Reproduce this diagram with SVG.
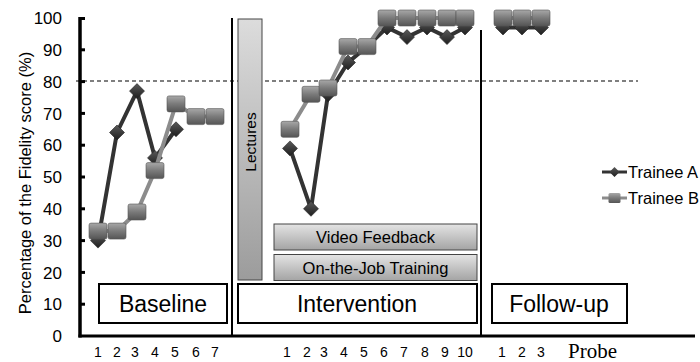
<svg xmlns="http://www.w3.org/2000/svg" xmlns:xlink="http://www.w3.org/1999/xlink" width="700" height="362" viewBox="0 0 700 362">
<defs>
<linearGradient id="gDia" x1="0" y1="0" x2="0" y2="1">
<stop offset="0" stop-color="#5a5a5a"/><stop offset="1" stop-color="#1e1e1e"/>
</linearGradient>
<linearGradient id="gSq" x1="0" y1="0" x2="0" y2="1">
<stop offset="0" stop-color="#a8a8a8"/><stop offset="0.5" stop-color="#7a7a7a"/><stop offset="1" stop-color="#555"/>
</linearGradient>
<linearGradient id="gBox" x1="0" y1="0" x2="0" y2="1">
<stop offset="0" stop-color="#e4e4e4"/><stop offset="1" stop-color="#a4a4a4"/>
</linearGradient>
<linearGradient id="gLect" x1="0" y1="0" x2="0" y2="1">
<stop offset="0" stop-color="#dcdcdc"/><stop offset="1" stop-color="#9c9c9c"/>
</linearGradient>
<path id="dia" d="M0,-7.5 L7.5,0 L0,7.5 L-7.5,0Z" fill="url(#gDia)" stroke="#222" stroke-width="0.6"/>
<rect id="sq" x="-9" y="-8" width="18" height="16" rx="2" fill="url(#gSq)" stroke="#555" stroke-width="0.6"/>
<path id="diaS" d="M0,-5 L5,0 L0,5 L-5,0Z" fill="url(#gDia)"/>
<rect id="sqS" x="-6" y="-5" width="12" height="10" rx="1.5" fill="url(#gSq)"/>
</defs>
<style>
.sans{font-family:"Liberation Sans","Open Sans",Arial,sans-serif;fill:#000}
.tick{font-size:17px;text-anchor:end}
.xl{font-size:14px;text-anchor:middle}
.phase{font-size:23px;text-anchor:middle}
.box{stroke:#000;stroke-width:2;fill:#fff}
.gbox{fill:url(#gBox);stroke:#444;stroke-width:1}
.lineA{fill:none;stroke:#333;stroke-width:4;stroke-linejoin:round}
.lineB{fill:none;stroke:#8c8c8c;stroke-width:4;stroke-linejoin:round}
</style>
<rect width="700" height="362" fill="#fff"/>

<g id="y-axis-title">
<text class="sans" font-size="16.5" text-anchor="middle" transform="translate(31,183) rotate(-90)">Percentage of the Fidelity score  (%)</text>
</g>

<g id="y-ticks" class="sans tick">
<text x="62" y="342">0</text>
<text x="62" y="310">10</text>
<text x="62" y="279">20</text>
<text x="62" y="247">30</text>
<text x="62" y="215">40</text>
<text x="62" y="183">50</text>
<text x="62" y="151">60</text>
<text x="62" y="120">70</text>
<text x="62" y="88">80</text>
<text x="62" y="56">90</text>
<text x="62" y="24">100</text>
</g>

<g id="axes" stroke="#000">
<line x1="80" y1="17" x2="80" y2="337.5" stroke-width="3.5"/>
<line x1="78.5" y1="336" x2="695" y2="336" stroke-width="3"/>
<g stroke-width="3">
<line x1="80" y1="304.2" x2="85" y2="304.2"/>
<line x1="80" y1="272.4" x2="85" y2="272.4"/>
<line x1="80" y1="240.6" x2="85" y2="240.6"/>
<line x1="80" y1="208.8" x2="85" y2="208.8"/>
<line x1="80" y1="177" x2="85" y2="177"/>
<line x1="80" y1="145.2" x2="85" y2="145.2"/>
<line x1="80" y1="113.4" x2="85" y2="113.4"/>
<line x1="80" y1="81.6" x2="85" y2="81.6"/>
<line x1="80" y1="49.8" x2="85" y2="49.8"/>
<line x1="80" y1="18.5" x2="85" y2="18.5"/>
</g>
</g>

<g id="criterion">
<line x1="76" y1="81" x2="638" y2="81" stroke="#000" stroke-width="1.2" stroke-dasharray="4,3"/>
</g>

<g id="phase-lines" stroke="#000" stroke-width="2">
<line x1="232" y1="18" x2="232" y2="336"/>
<line x1="481" y1="30" x2="481" y2="336"/>
</g>

<g id="lectures">
<rect x="238" y="19" width="24" height="261" fill="url(#gLect)" stroke="#444" stroke-width="1"/>
<text class="sans" font-size="15.5" text-anchor="middle" transform="translate(255.5,142) rotate(-90)">Lectures</text>
</g>

<g id="video-feedback">
<rect class="gbox" x="274" y="224" width="203" height="26"/>
<text class="sans" font-size="16.5" text-anchor="middle" x="375.5" y="243">Video Feedback</text>
</g>

<g id="on-the-job-training">
<rect class="gbox" x="274" y="254.5" width="203" height="26"/>
<text class="sans" font-size="16.5" text-anchor="middle" x="375.5" y="273.5">On-the-Job Training</text>
</g>

<g id="baseline-box">
<rect class="box" x="99" y="284" width="128" height="39"/>
<text class="sans phase" x="163" y="312">Baseline</text>
</g>

<g id="intervention-box">
<rect class="box" x="238" y="284" width="239" height="39"/>
<text class="sans phase" x="357" y="312" font-size="24.5">Intervention</text>
</g>

<g id="followup-box">
<rect class="box" x="492" y="284" width="135" height="39"/>
<text class="sans phase" x="559" y="312">Follow-up</text>
</g>

<g id="trainee-a">
<polyline class="lineA" points="98,240.6 117,132.5 137,91.1 155,157.9 176,129.3"/>
<polyline class="lineA" points="290,148.4 311,208.8 328,94.3 348,62.5 367,46.6 387,27.5 407,37.1 427,27.5 447,37.1 465,27.5"/>
<polyline class="lineA" points="503,27.5 522,27.5 541,27.5"/>
<use href="#dia" x="98" y="240.6"/><use href="#dia" x="117" y="132.5"/><use href="#dia" x="137" y="91.1"/><use href="#dia" x="155" y="157.9"/><use href="#dia" x="176" y="129.3"/>
<use href="#dia" x="290" y="148.4"/><use href="#dia" x="311" y="208.8"/><use href="#dia" x="328" y="94.3"/><use href="#dia" x="348" y="62.5"/><use href="#dia" x="367" y="46.6"/><use href="#dia" x="387" y="27.5"/><use href="#dia" x="407" y="37.1"/><use href="#dia" x="427" y="27.5"/><use href="#dia" x="447" y="37.1"/><use href="#dia" x="465" y="27.5"/>
<use href="#dia" x="503" y="27.5"/><use href="#dia" x="522" y="27.5"/><use href="#dia" x="541" y="27.5"/>
</g>

<g id="trainee-b">
<polyline class="lineB" points="98,231.1 117,231.1 137,212 155,170.6 176,103.9 196,116.6 215,116.6"/>
<polyline class="lineB" points="290,129.3 311,94.3 328,88 348,46.6 367,46.6 387,18 407,18 427,18 447,18 465,18"/>
<polyline class="lineB" points="503,18 522,18 541,18"/>
<use href="#sq" x="98" y="231.1"/><use href="#sq" x="117" y="231.1"/><use href="#sq" x="137" y="212"/><use href="#sq" x="155" y="170.6"/><use href="#sq" x="176" y="103.9"/><use href="#sq" x="196" y="116.6"/><use href="#sq" x="215" y="116.6"/>
<use href="#sq" x="290" y="129.3"/><use href="#sq" x="311" y="94.3"/><use href="#sq" x="328" y="88"/><use href="#sq" x="348" y="46.6"/><use href="#sq" x="367" y="46.6"/><use href="#sq" x="387" y="18"/><use href="#sq" x="407" y="18"/><use href="#sq" x="427" y="18"/><use href="#sq" x="447" y="18"/><use href="#sq" x="465" y="18"/>
<use href="#sq" x="503" y="18"/><use href="#sq" x="522" y="18"/><use href="#sq" x="541" y="18"/>
</g>

<g id="x-labels" class="sans xl">
<text x="98" y="357">1</text><text x="117" y="357">2</text><text x="135" y="357">3</text><text x="155" y="357">4</text><text x="175" y="357">5</text><text x="196" y="357">6</text><text x="215" y="357">7</text>
<text x="287" y="357">1</text><text x="307" y="357">2</text><text x="324" y="357">3</text><text x="344" y="357">4</text><text x="364" y="357">5</text><text x="384" y="357">6</text><text x="404" y="357">7</text><text x="425" y="357">8</text><text x="445" y="357">9</text><text x="465" y="357">10</text>
<text x="502" y="357">1</text><text x="522" y="357">2</text><text x="541" y="357">3</text>
</g>
<text x="568" y="358" font-family="'Liberation Serif','Times New Roman',serif" font-size="21">Probe</text>

<g id="legend">
<line x1="602" y1="172" x2="627" y2="172" stroke="#333" stroke-width="3"/>
<use href="#diaS" x="614.5" y="172"/>
<text class="sans" font-size="16.5" x="628" y="178">Trainee A</text>
<line x1="602" y1="198" x2="627" y2="198" stroke="#8c8c8c" stroke-width="3"/>
<use href="#sqS" x="614.5" y="198"/>
<text class="sans" font-size="16.5" x="628" y="204">Trainee B</text>
</g>
</svg>
